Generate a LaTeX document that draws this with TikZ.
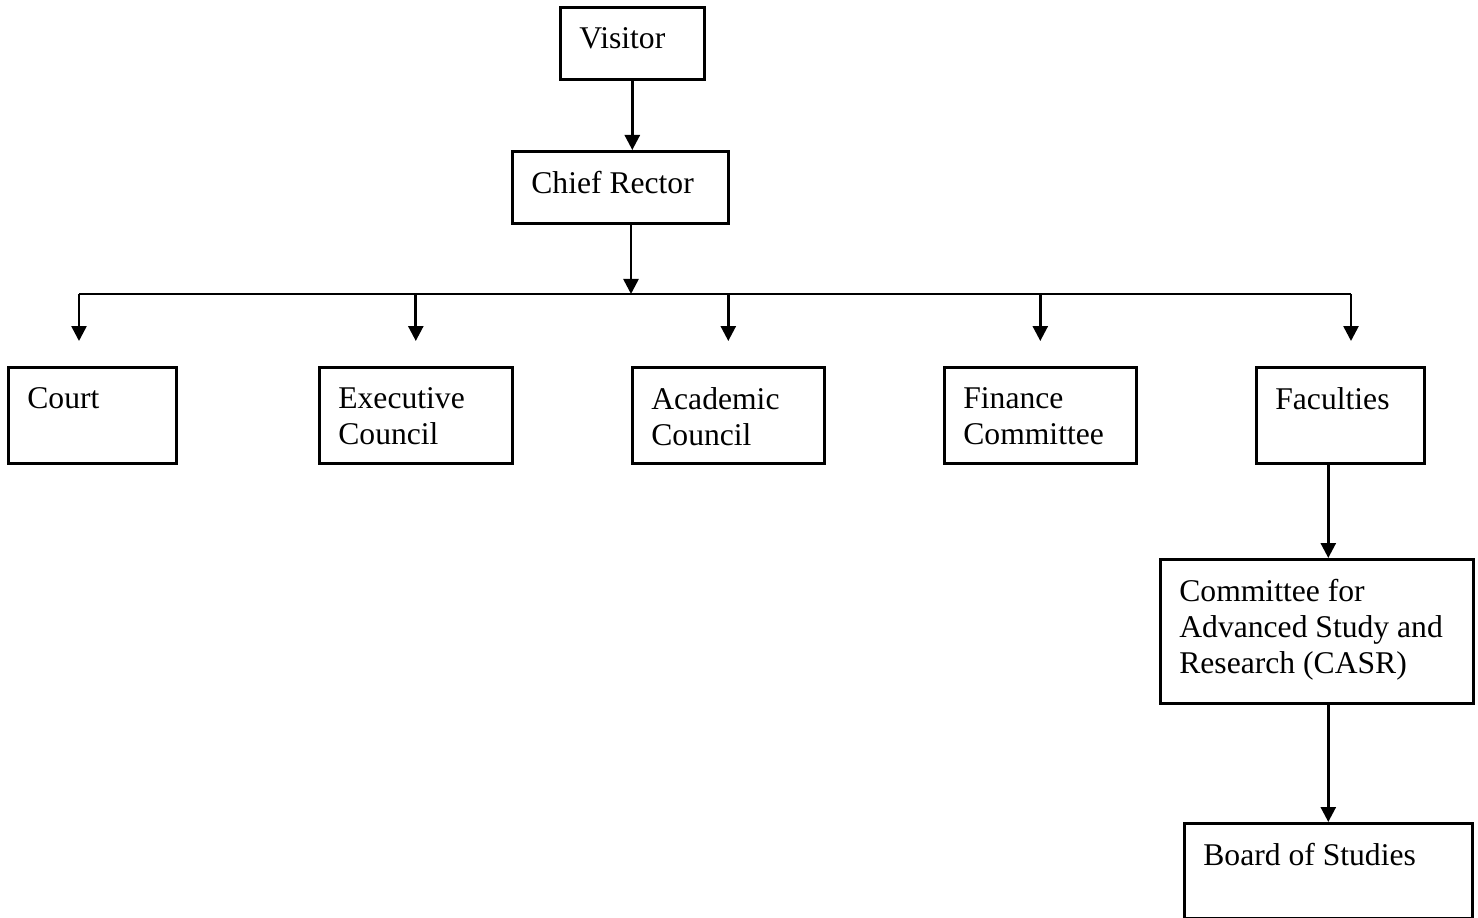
\documentclass[tikz,border=0pt]{standalone}
\usepackage{fontspec}
\setmainfont{Liberation Serif}
\usepackage{tikz}
\usetikzlibrary{positioning,calc,arrows.meta}

\begin{document}
\begin{tikzpicture}[x=0.02cm, y=-0.02cm,
    unit/.style 2 args={draw, line width=1.5pt, minimum width=#1, minimum height=#2, anchor=north west, inner sep=0pt},
    tag/.style={anchor=north west, inner sep=0pt, align=left, font=\fontsize{18}{20.5}\selectfont, xshift=0.4cm, yshift=-0.42cm},
    wire/.style={line width=1.5pt},
    link/.style={line width=1.5pt, -{Triangle[length=0.3cm, width=0.3cm]}}]
    \useasboundingbox (0,0) rectangle (1478,918);

    % Top of the chart
    \node[unit={2.88cm}{1.44cm}, label={[tag]north west:Visitor}] (visitor) at (559,6) {};
    \node[unit={4.32cm}{1.44cm}, label={[tag]north west:Chief Rector}] (rector) at (511,150) {};

    % Bodies under the Chief Rector
    \node[unit={3.36cm}{1.92cm}, label={[tag]north west:Court}] (court) at (7,366) {};
    \node[unit={3.86cm}{1.92cm}, label={[tag]north west:Executive\\Council}] (exec) at (318,366) {};
    \node[unit={3.84cm}{1.92cm}, label={[tag]north west:Academic\\Council}] (acad) at (631,366) {};
    \node[unit={3.84cm}{1.92cm}, label={[tag]north west:Finance\\Committee}] (fin) at (943,366) {};
    \node[unit={3.36cm}{1.92cm}, label={[tag]north west:Faculties}] (fac) at (1255,366) {};

    % Below the Faculties
    \node[unit={6.26cm}{2.88cm}, label={[tag]north west:Committee for\\Advanced Study and\\Research (CASR)}] (casr) at (1159,558) {};
    \node[unit={5.76cm}{1.9cm}, label={[tag]north west:Board of Studies}] (board) at (1183,822) {};

    % Connectors
    \coordinate (hub) at (631,294);
    \coordinate (barL) at (79,294);
    \coordinate (barR) at (1351,294);

    \draw[link] (visitor.south) -- (visitor.south |- rector.north);
    \draw[link] (rector.south -| hub) -- (hub);
    \draw[wire] (barL) -- (barR);

    \draw[link, shorten >=0.5cm] (barL) -- (barL |- court.north);
    \draw[link, shorten >=0.5cm] (exec.north |- barL) -- (exec.north);
    \draw[link, shorten >=0.5cm] (acad.north |- barL) -- (acad.north);
    \draw[link, shorten >=0.5cm] (fin.north |- barL) -- (fin.north);
    \draw[link, shorten >=0.5cm] (barR) -- (barR |- fac.north);

    \draw[link] (fac.south -| board.north) -- (casr.north -| board.north);
    \draw[link] (casr.south -| board.north) -- (board.north);

\end{tikzpicture}
\end{document}
